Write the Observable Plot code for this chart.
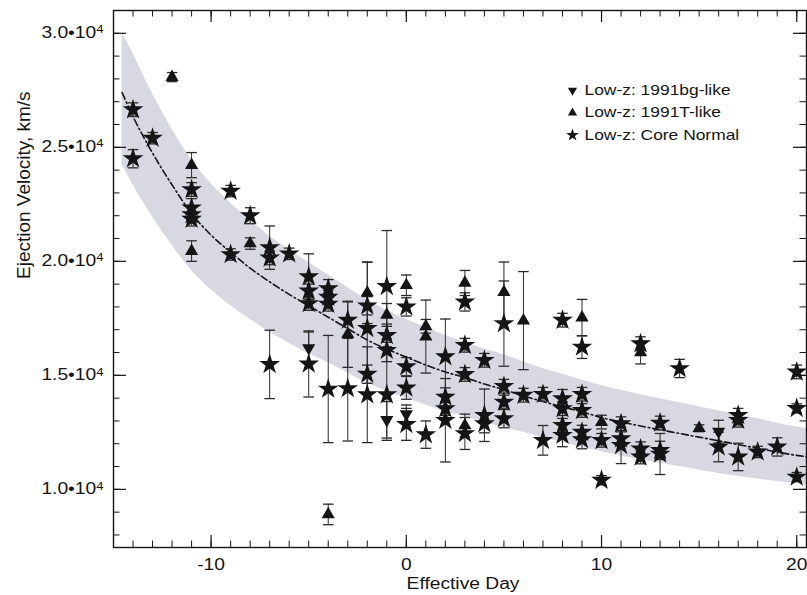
<!DOCTYPE html>
<html><head><meta charset="utf-8">
<script src="https://cdn.jsdelivr.net/npm/d3@7"></script>
<script src="https://cdn.jsdelivr.net/npm/@observablehq/plot@0.6"></script>
<style>body{margin:0;background:#fff;} svg{overflow:visible}</style>
</head><body><div id="chart"></div>
<script>
// ---- Data ----
const normalDay = [-14,-14,-13,-11,-11,-11,-11,-9,-9,-8,-7,-7,-7,-6,-5,-5,-5,-5,-4,-4,-4,-4,-3,-3,-2,-2,-2,-2,-1,-1,-1,-1,0,0,0,0,1,2,2,2,2,3,3,3,3,4,4,4,5,5,5,5,6,7,7,8,8,8,8,8,9,9,9,9,9,10,10,11,11,11,12,12,12,13,13,13,14,16,17,17,17,18,19,20,20,20];
const normalVel = [26650,24500,25400,23150,22350,22050,21850,23080,20300,22000,20600,20150,15480,20330,19330,18700,18150,15500,18800,18430,18120,14400,17420,14420,18050,17060,15050,14150,18900,16750,16100,14150,18000,15380,14450,12850,12400,15820,14050,13540,13030,18220,16320,15040,12450,15660,13250,12880,17270,14520,13830,13100,14130,14170,12150,17420,13980,13540,12810,12370,16240,14170,13460,12510,12180,12150,10400,12880,12220,11930,16390,11780,11420,12910,11710,11550,15300,11860,13250,13030,11420,11640,11860,15150,13550,10540];
const normalErr = [300,400,250,300,400,300,300,250,250,350,950,300,1500,250,1000,300,300,1450,400,300,300,2350,800,2300,400,2900,400,2100,2450,500,500,2000,400,400,500,700,600,1650,400,300,1830,400,300,300,700,300,1150,400,1870,300,300,400,300,300,650,300,400,300,300,500,500,300,300,300,400,300,200,300,300,800,300,300,300,300,400,900,400,650,300,300,600,250,400,300,200,200];

const t91Day = [-12,-11,-11,-8,-4,-3,-2,-1,0,1,1,3,3,5,6,9,10,12,15];
const t91Vel = [28080,24220,20450,20780,8900,16800,18620,17650,18950,17150,16700,19050,12800,18650,17400,17530,12950,16000,12680];
const t91Err = [200,550,450,250,450,1450,1350,500,450,300,1600,550,500,1320,2150,800,300,500,150];

const bgDay = [-5,-1,0,16];
const bgVel = [16200,13050,13300,12530];
const bgErr = [700,800,400,500];

const fitDay = [-14.56,-14,-13,-12,-11,-10,-9,-8,-7,-6,-5,-4,-3,-2,-1,0,1,2,3,4,5,6,7,8,9,10,12,14,16,18,20,20.6];
const fitVel = [27400,26350,24750,23350,22100,21150,20400,19700,19100,18550,18050,17550,17050,16550,16150,15800,15450,15150,14900,14620,14370,14100,13850,13620,13400,13150,12780,12450,12130,11800,11490,11420];
const bandHi = [30050,29100,27350,25800,24450,23400,22550,21800,21100,20500,19950,19400,18850,18300,17850,17450,17100,16750,16450,16150,15900,15600,15300,15050,14800,14550,14150,13800,13450,13100,12730,12660];
const bandLo = [24250,23350,21950,20700,19600,18750,18050,17450,16900,16400,15950,15550,15100,14650,14300,14000,13700,13400,13200,12950,12700,12500,12250,12050,11850,11650,11300,11000,10700,10450,10250,10190];

const xMajor = [-10, 0, 10, 20];
const yMajor = [10000, 15000, 20000, 25000, 30000];
const xMinor = d3.range(-15, 21);
const yMinor = d3.range(8000, 31001, 1000);
const legendLabels = ["Low-z: 1991bg-like", "Low-z: 1991T-like", "Low-z: Core Normal"];
const xTitle = "Effective Day";
const yTitle = "Ejection Velocity, km/s";

// ---- Tables ----
const table = (days, vels, errs) => days.map((d, i) => ({day: d, vel: vels[i], err: errs[i]}));
const normal = table(normalDay, normalVel, normalErr);
const t91 = table(t91Day, t91Vel, t91Err);
const bg = table(bgDay, bgVel, bgErr);
const all = [...normal, ...t91, ...bg];
const fit = fitDay.map((d, i) => ({day: d, fit: fitVel[i], hi: bandHi[i], lo: bandLo[i]}));

const triDown = {draw(ctx, size) {
  const y = Math.sqrt(size / (Math.sqrt(3) * 3));
  ctx.moveTo(0, 2 * y); ctx.lineTo(Math.sqrt(3) * y, -y); ctx.lineTo(-Math.sqrt(3) * y, -y); ctx.closePath();
}};

const W = 807, H = 595, mL = 113, mR = 1, mT = 10, mB = 48;
const iw = W - mL - mR, ih = H - mT - mB;
const ink = "#151515";
const capW = 0.27;

const legendRow = (i, symbol, r) => [
  Plot.dot([0], {frameAnchor: "top-left", dx: 572 - mL, dy: 90 - mT + i * 22.3, symbol, r, fill: ink}),
  Plot.text([legendLabels[i]], {frameAnchor: "top-left", dx: 584 - mL, dy: 90 - mT + i * 22.3, textAnchor: "start", lineAnchor: "middle", fontSize: 14.5, fill: ink})
];

const chart = Plot.plot({
  width: W, height: H,
  marginLeft: mL, marginRight: mR, marginTop: mT, marginBottom: mB,
  style: {fontFamily: "'Liberation Sans', Arial, sans-serif", fontSize: "16px", color: ink, background: "#fff"},
  x: {domain: [-15, 20.5], label: null},
  y: {domain: [7450, 31000], label: null},
  marks: [
    Plot.areaY(fit, {x: "day", y1: "lo", y2: "hi", fill: "#d7d8e2", curve: "monotone-x", clip: true}),
    Plot.line(fit, {x: "day", y: "fit", stroke: ink, strokeWidth: 1.6, strokeDasharray: "7,3,1.6,3", curve: "monotone-x", clip: true}),
    Plot.ruleX(all, {x: "day", y1: d => d.vel - d.err, y2: d => d.vel + d.err, stroke: "#2a2a2a", strokeWidth: 1}),
    Plot.link(all, {x1: d => d.day - capW, x2: d => d.day + capW, y1: d => d.vel + d.err, y2: d => d.vel + d.err, stroke: "#2a2a2a", strokeWidth: 1.3}),
    Plot.link(all, {x1: d => d.day - capW, x2: d => d.day + capW, y1: d => d.vel - d.err, y2: d => d.vel - d.err, stroke: "#2a2a2a", strokeWidth: 1.3}),
    Plot.dot(t91, {x: "day", y: "vel", symbol: "triangle", r: 4.9, fill: ink}),
    Plot.dot(bg, {x: "day", y: "vel", symbol: triDown, r: 4.9, fill: ink}),
    Plot.dot(normal, {x: "day", y: "vel", symbol: "star", r: 6.5, fill: ink}),
    // inward ticks on all four sides
    Plot.tickY(yMinor, {y: d => d, insetRight: iw - 6.5, stroke: ink}),
    Plot.tickY(yMajor, {y: d => d, insetRight: iw - 13, stroke: ink, strokeWidth: 1.2}),
    Plot.tickY(yMinor, {y: d => d, insetLeft: iw - 6.5, stroke: ink}),
    Plot.tickY(yMajor, {y: d => d, insetLeft: iw - 13, stroke: ink, strokeWidth: 1.2}),
    Plot.tickX(xMinor, {x: d => d, insetTop: ih - 6.5, stroke: ink}),
    Plot.tickX(xMajor, {x: d => d, insetTop: ih - 12, stroke: ink, strokeWidth: 1.2}),
    Plot.tickX(xMinor, {x: d => d, insetBottom: ih - 6.5, stroke: ink}),
    Plot.tickX(xMajor, {x: d => d, insetBottom: ih - 12, stroke: ink, strokeWidth: 1.2}),
    Plot.frame({stroke: ink, strokeWidth: 1.4}),
    Plot.axisY(yMajor, {tickSize: 0, tickPadding: 10, tickFormat: d => (d / 1e4).toFixed(1) + "•10⁴", fontSize: 16}),
    Plot.axisX(xMajor, {tickSize: 0, tickPadding: 11, tickFormat: d => String(d), fontSize: 16}),
    Plot.text([xTitle], {frameAnchor: "bottom", dx: 3, dy: 36, lineAnchor: "middle", fontSize: 16, fill: ink}),
    Plot.text([yTitle], {frameAnchor: "left", dx: 23 - mL, rotate: -90, lineAnchor: "middle", fontSize: 19, fill: ink}),
    ...legendRow(0, triDown, 3.4),
    ...legendRow(1, "triangle", 3.4),
    ...legendRow(2, "star", 4)
  ]
});
document.getElementById("chart").append(chart);

// Raise the exponent of the y tick labels as a real superscript.
const NS = "http://www.w3.org/2000/svg";
chart.querySelectorAll("text").forEach(t => {
  const s = t.textContent;
  if (s.endsWith("⁴")) {
    t.textContent = "";
    const a = document.createElementNS(NS, "tspan"); a.textContent = s.slice(0, -1);
    const b = document.createElementNS(NS, "tspan"); b.textContent = "4";
    b.setAttribute("dy", "-0.45em"); b.setAttribute("font-size", "11");
    t.append(a, b);
  }
});

// The reference is horizontally stretched ~1.2x: widen horizontal text glyphs to match.
const stretch = el => {
  const L = el.getComputedTextLength();
  if (L > 0) { el.setAttribute("textLength", (L * 1.2).toFixed(1)); el.setAttribute("lengthAdjust", "spacingAndGlyphs"); }
};
chart.querySelectorAll("text").forEach(t => {
  if (t.textContent === yTitle) return;
  const spans = t.querySelectorAll("tspan");
  if (spans.length) spans.forEach(stretch); else stretch(t);
});
</script>
</body></html>
